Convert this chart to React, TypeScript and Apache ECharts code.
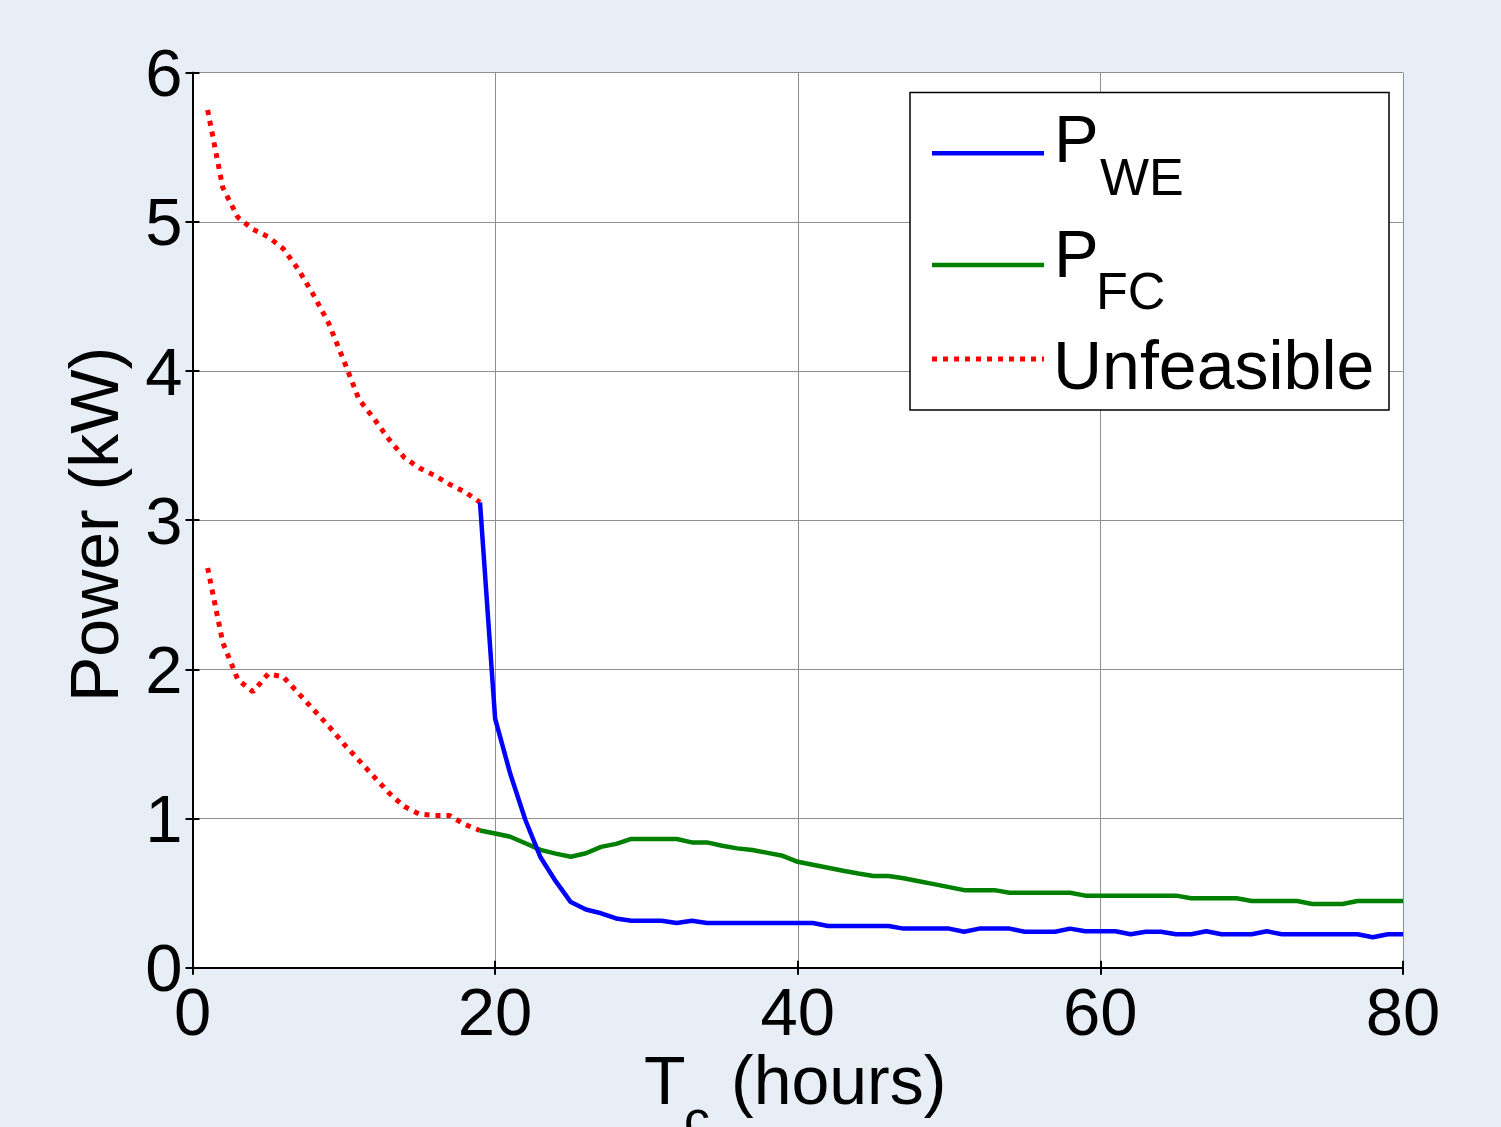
import React, { useEffect, useRef } from "react";
import * as echarts from "echarts";

// Hours for the unfeasible region and the feasible region
const hoursUnfeasible = [1, 2, 3, 4, 5, 6, 7, 8, 9, 10, 11, 12, 13, 14, 15, 16, 17, 18, 19];
const hoursFeasible = [
  19, 20, 21, 22, 23, 24, 25, 26, 27, 28, 29, 30, 31, 32, 33, 34, 35, 36, 37, 38, 39, 40,
  41, 42, 43, 44, 45, 46, 47, 48, 49, 50, 51, 52, 53, 54, 55, 56, 57, 58, 59, 60,
  61, 62, 63, 64, 65, 66, 67, 68, 69, 70, 71, 72, 73, 74, 75, 76, 77, 78, 79, 80,
];

// Unfeasible (upper, electrolyser side) kW
const unfeasibleUpper = [
  5.75, 5.23, 5.03, 4.95, 4.9, 4.82, 4.68, 4.51, 4.32, 4.07, 3.81, 3.68, 3.54, 3.42, 3.35, 3.3,
  3.24, 3.19, 3.12,
];
// Unfeasible (lower, fuel cell side) kW
const unfeasibleLower = [
  2.68, 2.18, 1.93, 1.85, 1.97, 1.95, 1.84, 1.73, 1.62, 1.5, 1.39, 1.28, 1.17, 1.08, 1.03, 1.02,
  1.02, 0.96, 0.92,
];
// P_WE kW
const pWE = [
  3.12, 1.67, 1.3, 0.99, 0.74, 0.58, 0.44, 0.39, 0.365, 0.33, 0.315, 0.315, 0.315, 0.3, 0.315,
  0.3, 0.3, 0.3, 0.3, 0.3, 0.3, 0.3, 0.3, 0.28, 0.28, 0.28, 0.28, 0.28, 0.262, 0.262, 0.262,
  0.262, 0.241, 0.262, 0.262, 0.262, 0.241, 0.241, 0.241, 0.262, 0.244, 0.244, 0.244, 0.224,
  0.241, 0.241, 0.224, 0.224, 0.244, 0.224, 0.224, 0.224, 0.244, 0.224, 0.224, 0.224, 0.224,
  0.224, 0.224, 0.204, 0.224, 0.224,
];
// P_FC kW
const pFC = [
  0.92, 0.9, 0.878, 0.834, 0.79, 0.765, 0.744, 0.767, 0.81, 0.83, 0.863, 0.863, 0.863, 0.863,
  0.84, 0.84, 0.818, 0.8, 0.789, 0.77, 0.75, 0.71, 0.69, 0.67, 0.65, 0.632, 0.615, 0.615, 0.6,
  0.58, 0.56, 0.54, 0.52, 0.52, 0.52, 0.503, 0.503, 0.503, 0.503, 0.503, 0.483, 0.483, 0.483,
  0.483, 0.483, 0.483, 0.483, 0.465, 0.465, 0.465, 0.465, 0.447, 0.447, 0.447, 0.447, 0.427,
  0.427, 0.427, 0.447, 0.447, 0.447, 0.447,
];

const xTicks = [0, 20, 40, 60, 80];
const yTicks = [0, 1, 2, 3, 4, 5, 6];

const FONT = "'Liberation Sans', Arial, sans-serif";

const pair = (xs: number[], ys: number[]) => xs.map((x, i) => [x, ys[i]]);

export default function App() {
  const ref = useRef<HTMLDivElement>(null);
  useEffect(() => {
    if (!ref.current) return;
    const chart = echarts.init(ref.current, undefined, { renderer: "svg" });
    const tickLabel = { fontSize: 67, color: "#000", fontFamily: FONT };
    const dotted = { color: "#ff0000", width: 5, type: [5, 6] as any, cap: "butt" as const };
    const txt = (text: string, x: number, y: number, size: number, extra: any = {}) => ({
      type: "text",
      z: 52,
      x,
      y,
      ...extra,
      style: { text, font: `${size}px ${FONT}`, fill: "#000", verticalAlign: "middle", align: "left", ...(extra.style || {}) },
    });
    chart.setOption({
      animation: false,
      backgroundColor: "#E7EEF6",
      grid: {
        left: 192.5,
        right: 98,
        top: 72.7,
        bottom: 159.3,
        show: true,
        backgroundColor: "#fff",
        borderWidth: 0,
      },
      xAxis: [
        {
          type: "value",
          min: xTicks[0],
          max: xTicks[xTicks.length - 1],
          interval: 20,
          position: "bottom",
          axisLine: { show: true, lineStyle: { color: "#000", width: 2 } },
          axisTick: { show: true, inside: true, length: 7, lineStyle: { color: "#000", width: 2 } },
          axisLabel: { ...tickLabel, margin: 10 },
          splitLine: { show: true, lineStyle: { color: "#8f8f8f", width: 1 } },
        },
        {
          type: "value",
          min: xTicks[0],
          max: xTicks[xTicks.length - 1],
          interval: 20,
          position: "top",
          axisLine: { show: true, lineStyle: { color: "#000", width: 1.5 } },
          axisTick: { show: true, inside: true, length: 7, lineStyle: { color: "#000", width: 2 } },
          axisLabel: { show: false },
          splitLine: { show: false },
        },
      ],
      yAxis: [
        {
          type: "value",
          min: yTicks[0],
          max: yTicks[yTicks.length - 1],
          interval: 1,
          position: "left",
          axisLine: { show: true, lineStyle: { color: "#000", width: 2 } },
          axisTick: { show: true, inside: true, length: 7, lineStyle: { color: "#000", width: 2 } },
          axisLabel: { ...tickLabel, margin: 10 },
          splitLine: { show: true, lineStyle: { color: "#8f8f8f", width: 1 } },
        },
        {
          type: "value",
          min: yTicks[0],
          max: yTicks[yTicks.length - 1],
          interval: 1,
          position: "right",
          axisLine: { show: true, lineStyle: { color: "#000", width: 2 } },
          axisTick: { show: true, inside: true, length: 7, lineStyle: { color: "#000", width: 2 } },
          axisLabel: { show: false },
          splitLine: { show: false },
        },
      ],
      series: [
        {
          name: "Unfeasible",
          type: "line",
          data: pair(hoursUnfeasible, unfeasibleUpper),
          showSymbol: false,
          symbol: "none",
          lineStyle: dotted,
          z: 3,
        },
        {
          name: "Unfeasible",
          type: "line",
          data: pair(hoursUnfeasible, unfeasibleLower),
          showSymbol: false,
          symbol: "none",
          lineStyle: dotted,
          z: 3,
        },
        {
          name: "P_FC",
          type: "line",
          data: pair(hoursFeasible, pFC),
          showSymbol: false,
          symbol: "none",
          lineStyle: { color: "#008000", width: 4.5 },
          z: 4,
        },
        {
          name: "P_WE",
          type: "line",
          data: pair(hoursFeasible, pWE),
          showSymbol: false,
          symbol: "none",
          lineStyle: { color: "#0000ff", width: 4.5 },
          z: 5,
        },
      ],
      graphic: [
        // Legend box
        {
          type: "rect",
          z: 50,
          shape: { x: 910, y: 92.5, width: 479, height: 317.5 },
          style: { fill: "#fff", stroke: "#000", lineWidth: 1.5 },
        },
        {
          type: "line",
          z: 51,
          shape: { x1: 932, y1: 153.3, x2: 1044, y2: 153.3 },
          style: { stroke: "#0000ff", lineWidth: 4.5 },
        },
        {
          type: "line",
          z: 51,
          shape: { x1: 932, y1: 265, x2: 1044, y2: 265 },
          style: { stroke: "#008000", lineWidth: 4.5 },
        },
        {
          type: "line",
          z: 51,
          shape: { x1: 932, y1: 359, x2: 1044, y2: 359 },
          style: { stroke: "#ff0000", lineWidth: 5, lineDash: [5, 6] },
        },
        txt("P", 1054, 138, 67),
        txt("WE", 1100, 177, 52),
        txt("P", 1054, 253, 67),
        txt("FC", 1096, 291, 52),
        txt("Unfeasible", 1053, 364.5, 68),
        // X axis title
        txt("T", 644, 1080, 68),
        txt("c", 684, 1119, 52),
        txt("(hours)", 731, 1080, 68),
        // Y axis title
        txt("Power (kW)", 94, 524.5, 68, {
          rotation: Math.PI / 2,
          style: { align: "center" },
        }),
      ],
    });
    return () => chart.dispose();
  }, []);
  return (
    <div
      ref={ref}
      style={{ position: "fixed", left: 0, top: 0, width: 1501, height: 1127 }}
    />
  );
}
